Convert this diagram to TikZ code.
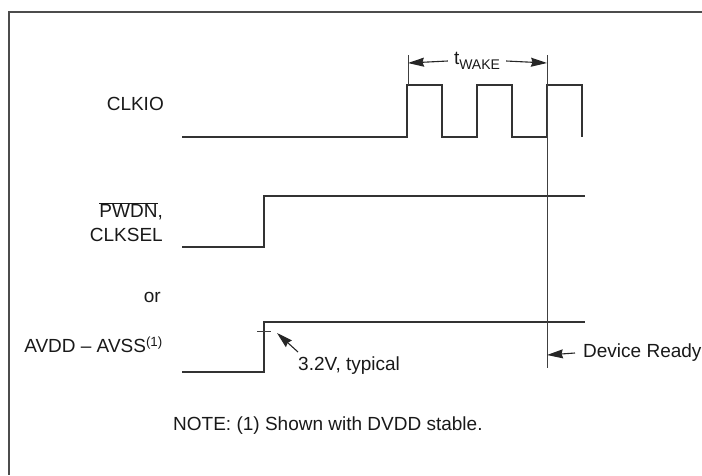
\documentclass[tikz,border=0pt]{standalone}
\usepackage{fontspec}
\setmainfont{Liberation Sans}
\usepackage{tikz}
\usetikzlibrary{arrows.meta,positioning}
\tikzset{
    sinal/.style={line width=2pt, draw=black!80},
    moldura/.style={line width=2.2pt, draw=black!70},
    guia/.style={line width=0.9pt, draw=black!75},
    rotulo/.style={font=\fontsize{19}{24}\selectfont, text=black!90, inner sep=0pt},
    seta/.style={-{Stealth[length=16pt,width=9pt,inset=1.5pt]}, line width=1.1pt, draw=black!85}
}
\begin{document}
\begin{tikzpicture}[x=1pt, y=-1pt]
    \useasboundingbox (0,0) rectangle (702,475);
    % moldura
    \draw[moldura] (702,12) -| (9,475);
    % rotulos dos sinais
    \node[rotulo, anchor=east] (clkio) at (164,104) {CLKIO};
    \node[rotulo, anchor=east, align=right] (pwdn) at (163,222)
        {$\overline{\mbox{PWDN}}$,\\CLKSEL};
    \node[rotulo, anchor=east] (ou) at (161,297) {or};
    \node[rotulo, anchor=east] (avdd) at (163,345)
        {AVDD -- AVSS\textsuperscript{(1)}};
    % CLKIO
    \draw[sinal] (182,137) -- (407,137)
        \foreach \x in {407,477,547} {
            -- (\x,137) -- (\x,85) -- (\x+35,85) -- (\x+35,137)
        };
    % PWDN, CLKSEL
    \draw[sinal] (182,247) -- (264,247) -- (264,196) -- (585,196);
    % AVDD - AVSS
    \draw[sinal] (182,372) -- (264,372) -- (264,322) -- (585,322);
    \coordinate (limiar) at (264,331);
    \draw[guia] (257,331) -- (271,331);
    % t_WAKE
    \coordinate (iniWake) at (408,63);
    \coordinate (fimWake) at (547,63);
    \draw[guia] (408,55) -- (408,85);
    \draw[guia] (547,55) -- (547,368);
    \node[rotulo] (twake) at (477,61)
        {t\raisebox{-0.45ex}{\fontsize{14}{14}\selectfont WAKE}};
    \draw[seta] ([xshift=-6pt]twake.west) -- (iniWake);
    \draw[seta] ([xshift=6pt]twake.east) -- (fimWake);
    % 3.2V, typical
    \node[rotulo, anchor=west] (tipico) at (298,366) {3.2V, typical};
    \draw[seta] (298,352) -- ([shift={(13pt,-2pt)}]limiar);
    % Device Ready
    \coordinate (pronto) at (547,355);
    \node[rotulo, anchor=west] (ready) at (583,353) {Device Ready};
    \draw[seta] ([xshift=-8pt]ready.west) -- (pronto);
    % nota
    \node[rotulo, anchor=west] (nota) at (173,426)
        {NOTE: (1) Shown with DVDD stable.};
\end{tikzpicture}
\end{document}
